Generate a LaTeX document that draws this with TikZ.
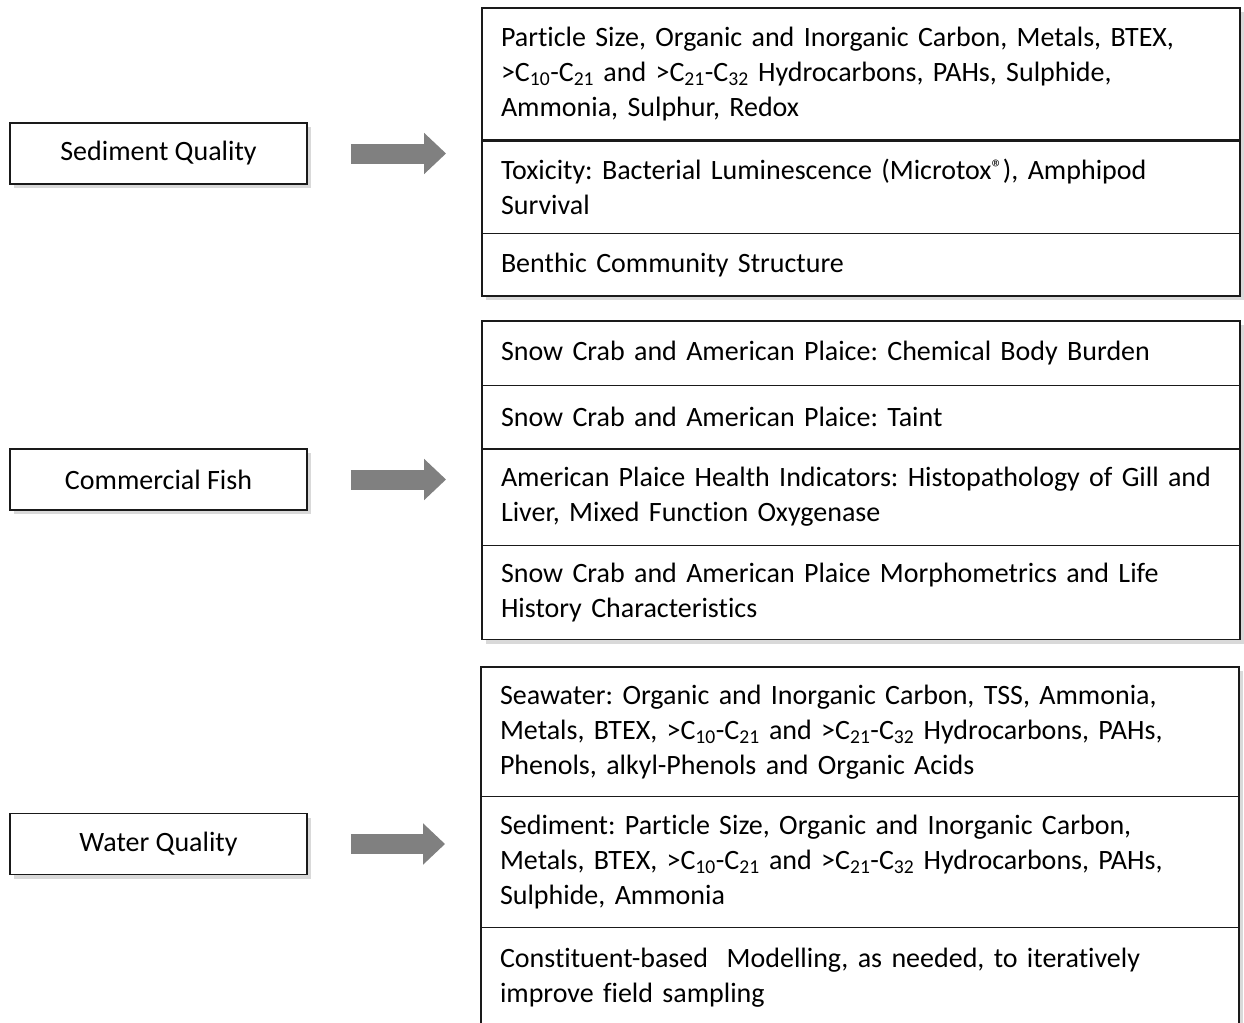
\documentclass[tikz,border=0pt]{standalone}
\usepackage{fontspec}
\setmainfont{Carlito}[Ligatures=CommonOff]
\usepackage{tikz}
\usetikzlibrary{positioning,backgrounds,fit,shadows,arrows.meta}

\definecolor{rulecol}{HTML}{1A1A1A}
\definecolor{arrowgrey}{HTML}{808080}
\newcommand{\csub}[1]{C\textsubscript{#1}}
\newcommand{\regmark}{\raisebox{0.35ex}{\scalebox{0.8}{®}}}
\frenchspacing

\begin{document}
\begin{tikzpicture}[
        x=1pt, y=-1pt,
        font=\fontsize{28}{35}\selectfont,
        topic/.style={draw=rulecol, line width=1.5pt, fill=white, minimum width=297pt,
            minimum height=61pt, inner sep=0pt,
            drop shadow={shadow xshift=4pt, shadow yshift=-4pt, opacity=0.3}},
        cell/.style={minimum width=758pt, text width=720pt, inner xsep=19pt, inner ysep=0pt,
            align=left, minimum height=#1},
        group/.style={draw=rulecol, line width=1.5pt, fill=white, inner sep=0pt,
            drop shadow={shadow xshift=4pt, shadow yshift=-4pt, opacity=0.3}},
        thinrule/.style={draw=rulecol, line width=1.2pt},
        thickrule/.style={draw=rulecol, line width=2.4pt},
        fatarrow/.style={draw=arrowgrey, line width=20pt, shorten <=43pt, shorten >=35pt,
            -{Triangle[length=22pt, width=40pt]}}
    ]
    \useasboundingbox (0,0) rectangle (1244,1022);

    % Define topic boxes
    \node[topic] (sed) at (158.5, 153.5) {Sediment Quality};
    \node[topic] (fish) at (158.5, 479.5) {Commercial Fish};
    \node[topic] (water) at (158.5, 844) {Water Quality};

    % Sediment quality cells
    \node[cell=132pt, anchor=north] (s1) at (861, 8) {Particle Size, Organic and Inorganic Carbon, Metals, BTEX,\\
        >\csub{10}-\csub{21} and >\csub{21}-\csub{32} Hydrocarbons, PAHs, Sulphide,\\
        Ammonia, Sulphur, Redox};
    \node[cell=93pt, below=0pt of s1] (s2) {Toxicity: Bacterial Luminescence (Microtox\regmark), Amphipod\\
        Survival};
    \node[cell=62pt, below=0pt of s2] (s3) {Benthic Community Structure};

    % Commercial fish cells
    \node[cell=64pt, anchor=north] (f1) at (861, 321) {Snow Crab and American Plaice: Chemical Body Burden};
    \node[cell=63pt, below=0pt of f1] (f2) {Snow Crab and American Plaice: Taint};
    \node[cell=96pt, below=0pt of f2] (f3) {American Plaice Health Indicators: Histopathology of Gill and\\
        Liver, Mixed Function Oxygenase};
    \node[cell=94pt, below=0pt of f3] (f4) {Snow Crab and American Plaice Morphometrics and Life\\
        History Characteristics};

    % Water quality cells
    \node[cell=129pt, anchor=north] (w1) at (860, 667) {Seawater: Organic and Inorganic Carbon, TSS, Ammonia,\\
        Metals, BTEX, >\csub{10}-\csub{21} and >\csub{21}-\csub{32} Hydrocarbons, PAHs,\\
        Phenols, alkyl-Phenols and Organic Acids};
    \node[cell=131pt, below=0pt of w1] (w2) {Sediment: Particle Size, Organic and Inorganic Carbon,\\
        Metals, BTEX, >\csub{10}-\csub{21} and >\csub{21}-\csub{32} Hydrocarbons, PAHs,\\
        Sulphide, Ammonia};
    \node[cell=99pt, below=0pt of w2] (w3) {Constituent-based\ \ Modelling, as needed, to iteratively\\
        improve field sampling};

    % Outer frames behind the cells
    \begin{scope}[on background layer]
        \node[group, fit=(s1)(s3)] (sedgrp) {};
        \node[group, fit=(f1)(f4)] (fishgrp) {};
        \node[group, fit=(w1)(w3)] (watergrp) {};
    \end{scope}

    % Rules between cells
    \draw[thickrule] (s1.south west) -- (s1.south east);
    \draw[thinrule] (s2.south west) -- (s2.south east);
    \draw[thinrule] (f1.south west) -- (f1.south east);
    \draw[thickrule] (f2.south west) -- (f2.south east);
    \draw[thinrule] (f3.south west) -- (f3.south east);
    \draw[thinrule] (w1.south west) -- (w1.south east);
    \draw[thinrule] (w2.south west) -- (w2.south east);

    % Block arrows
    \draw[fatarrow] (sed.east) -- (sed.east -| sedgrp.west);
    \draw[fatarrow] (fish.east) -- (fish.east -| fishgrp.west);
    \draw[fatarrow] (water.east) -- (water.east -| watergrp.west);

\end{tikzpicture}
\end{document}
